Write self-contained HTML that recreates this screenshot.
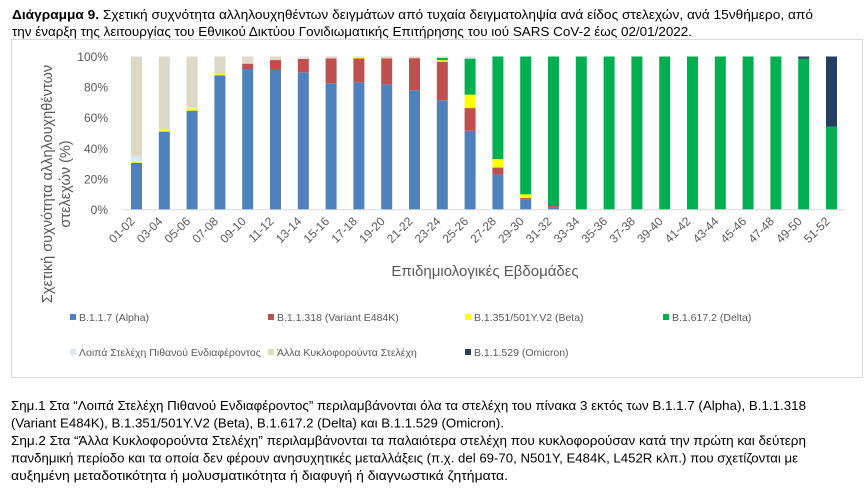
<!DOCTYPE html>
<html><head><meta charset="utf-8">
<style>
html,body{margin:0;padding:0;background:#fff;}
svg{display:block;}
text{font-family:"Liberation Sans","DejaVu Sans",sans-serif;}
</style></head>
<body>
<svg id="s" width="868" height="488" viewBox="0 0 868 488" xmlns="http://www.w3.org/2000/svg">
<rect width="868" height="488" fill="#fff"/>
<text x="12" y="19" font-size="13" fill="#000" textLength="801" lengthAdjust="spacingAndGlyphs"><tspan font-weight="bold">Διάγραμμα 9.</tspan> Σχετική συχνότητα αλληλουχηθέντων δειγμάτων από τυχαία δειγματοληψία ανά είδος στελεχών, ανά 15νθήμερο, από</text>
<text x="12" y="36" font-size="13" fill="#000" textLength="680" lengthAdjust="spacingAndGlyphs">την έναρξη της λειτουργίας του Εθνικού Δικτύου Γονιδιωματικής Επιτήρησης του ιού SARS CoV-2 έως 02/01/2022.</text>
<rect x="11.5" y="39.5" width="851" height="338" fill="none" stroke="#d9d9d9" stroke-width="1"/>
<g font-size="12" fill="#595959" text-anchor="end">
<text x="108" y="61">100%</text>
<text x="108" y="91.6">80%</text>
<text x="108" y="122.2">60%</text>
<text x="108" y="152.8">40%</text>
<text x="108" y="183.4">20%</text>
<text x="108" y="214">0%</text>
</g>
<g id="bars"></g>
<line x1="122" y1="209.8" x2="845" y2="209.8" stroke="#d9d9d9" stroke-width="1"/>
<g id="ticks" font-size="12" fill="#595959" text-anchor="end"></g>
<g font-size="14.5" fill="#595959" text-anchor="middle">
<text transform="translate(52,184) rotate(-90)">Σχετική συχνότητα αλληλουχηθέντων</text>
<text transform="translate(70,184) rotate(-90)">στελεχών (%)</text>
<text x="485" y="276" font-size="15">Επιδημιολογικές Εβδομάδες</text>
</g>
<g font-size="10.5" fill="#595959">
<rect x="70" y="314" width="6" height="6" fill="#4f81bd"/><text x="79" y="321">B.1.1.7 (Alpha)</text>
<rect x="268" y="314" width="6" height="6" fill="#c0504d"/><text x="277" y="321">B.1.1.318 (Variant E484K)</text>
<rect x="465" y="314" width="6" height="6" fill="#ffff00"/><text x="474" y="321">B.1.351/501Y.V2 (Beta)</text>
<rect x="663" y="314" width="6" height="6" fill="#00b050"/><text x="672" y="321">B.1.617.2 (Delta)</text>
<rect x="70" y="349" width="6" height="6" fill="#dce6f2"/><text x="79" y="356">Λοιπά Στελέχη Πιθανού Ενδιαφέροντος</text>
<rect x="268" y="349" width="6" height="6" fill="#ddd9c4"/><text x="277" y="356">Άλλα Κυκλοφορούντα Στελέχη</text>
<rect x="465" y="349" width="6" height="6" fill="#243f60"/><text x="474" y="356">B.1.1.529 (Omicron)</text>
</g>
<g font-size="13" fill="#000">
<text x="11" y="410" textLength="795" lengthAdjust="spacingAndGlyphs">Σημ.1 Στα “Λοιπά Στελέχη Πιθανού Ενδιαφέροντος” περιλαμβάνονται όλα τα στελέχη του πίνακα 3 εκτός των B.1.1.7 (Alpha), B.1.1.318</text>
<text x="11" y="427.5" textLength="493" lengthAdjust="spacingAndGlyphs">(Variant E484K), B.1.351/501Y.V2 (Beta), B.1.617.2 (Delta) και B.1.1.529 (Omicron).</text>
<text x="11" y="445" textLength="795" lengthAdjust="spacingAndGlyphs">Σημ.2 Στα “Άλλα Κυκλοφορούντα Στελέχη” περιλαμβάνονται τα παλαιότερα στελέχη που κυκλοφορούσαν κατά την πρώτη και δεύτερη</text>
<text x="11" y="462.5" textLength="787" lengthAdjust="spacingAndGlyphs">πανδημική περίοδο και τα οποία δεν φέρουν ανησυχητικές μεταλλάξεις (π.χ. del 69-70, N501Y, E484K, L452R κλπ.) που σχετίζονται με</text>
<text x="11" y="480" textLength="497" lengthAdjust="spacingAndGlyphs">αυξημένη μεταδοτικότητα ή μολυσματικότητα ή διαφυγή ή διαγνωστικά ζητήματα.</text>
</g>
</svg>
<script>
var cols=["#4f81bd","#c0504d","#ffff00","#00b050","#243f60","#dce6f2","#ddd9c4"];
var d=[
[30.4,0,0.7,0,0,4,0],[50.9,0,1,0,0,0,0],[64.6,0,1.5,0,0,0.5,0],[87.7,0,1.2,0,0,0,0],
[91.8,3.5,0,0,0,0,0],[91.2,6.5,0,0,0,0,0],[89.7,8.7,0,0,0,1.3,0],[82.5,16.3,0,0,0,0,0],
[83.1,15.6,0.5,0,0,0,0],[81.8,17,0,0,0,0,0],[77.9,21,0,0,0,0,0],[71.4,25.2,1,1.5,0,0,0],
[51.5,14.8,8.8,23.5,0,1.4,0],[22.8,4.6,5.5,67.1,0,0,0],[6.4,1.1,2.4,90.1,0,0,0],[1.5,0.8,0,97.7,0,0,0],
[0,0,0,100,0,0,0],[0,0,0,100,0,0,0],[0,0,0,100,0,0,0],[0,0,0,100,0,0,0],[0,0,0,100,0,0,0],
[0,0,0,100,0,0,0],[0,0,0,100,0,0,0],[0,0,0,100,0,0,0],[0,0,0,98.5,1.5,0,0],[0,0,0,54.1,45.9,0,0]];
var labs=[];for(var i=0;i<26;i++){var a=2*i+1,b=a+1;labs.push((a<10?"0":"")+a+"-"+(b<10?"0":"")+b);}
var ns="http://www.w3.org/2000/svg",g=document.getElementById("bars"),t=document.getElementById("ticks");
for(var i=0;i<26;i++){
 var c=136.5+27.8*i,acc=0,row=d[i],s=0;for(var k=0;k<7;k++)s+=row[k];
 row[6]+=Math.max(0,100-s);
 for(var k=0;k<7;k++){if(row[k]<=0)continue;
  var r=document.createElementNS(ns,"rect");
  var y1=209.5-(acc+row[k])*1.53,y0=209.5-acc*1.53;
  r.setAttribute("x",c-5.5);r.setAttribute("width",11);r.setAttribute("y",y1);r.setAttribute("height",y0-y1);
  r.setAttribute("fill",cols[k]);g.appendChild(r);acc+=row[k];}
 var tx=document.createElementNS(ns,"text");
 tx.setAttribute("transform","translate("+(c-1)+",222) rotate(-45)");tx.textContent=labs[i];t.appendChild(tx);
}
</script>
</body></html>
